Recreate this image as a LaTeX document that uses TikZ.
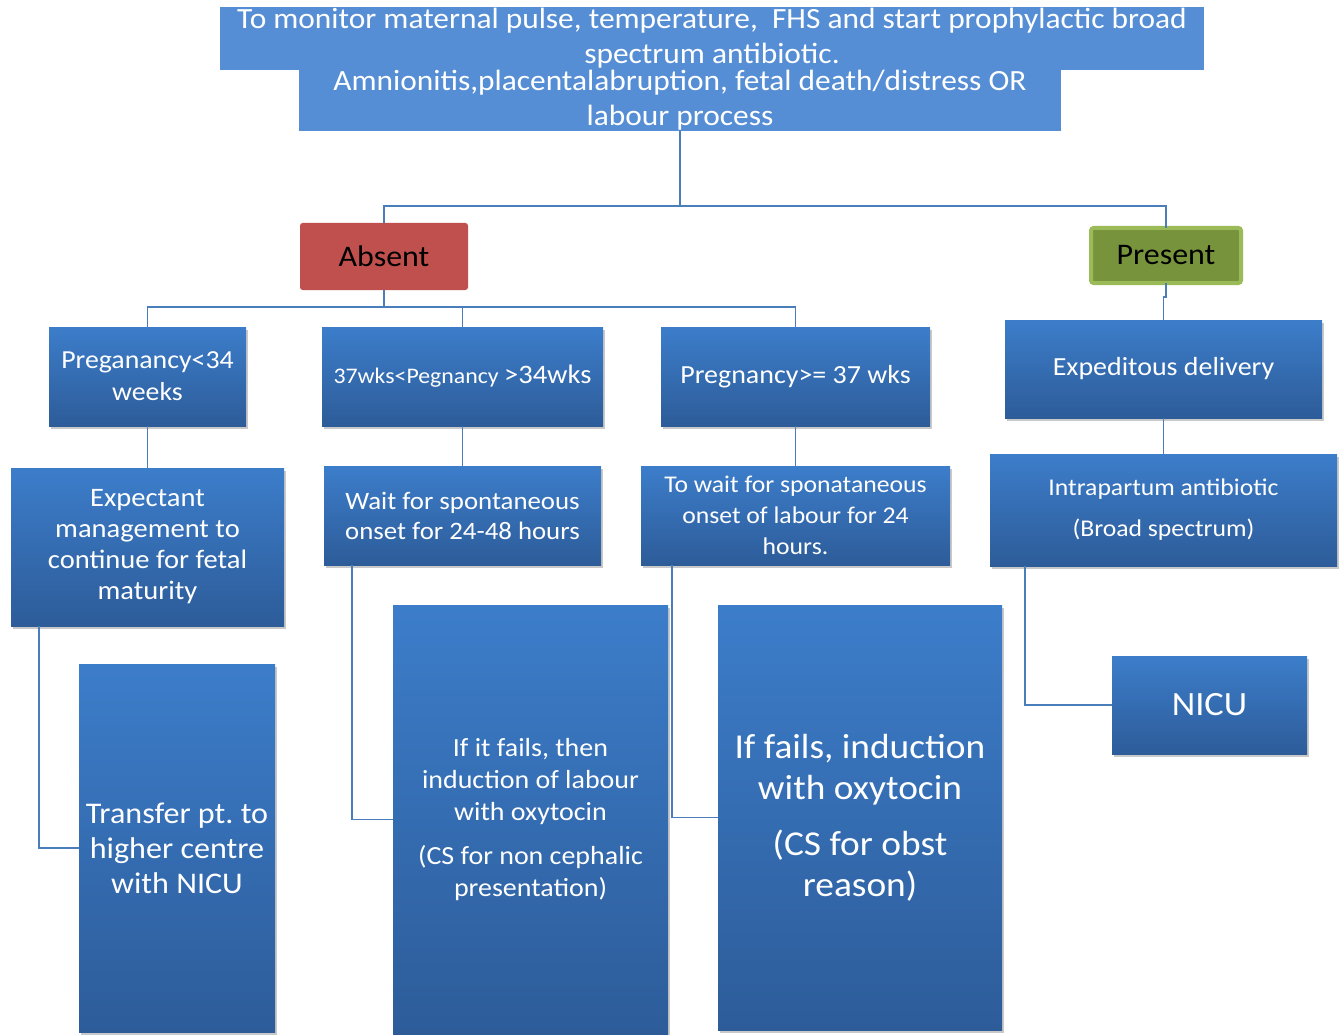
\documentclass[tikz,border=0pt]{standalone}
\usepackage{fontspec}
\setmainfont{Carlito}[FakeStretch=1.07]
\usetikzlibrary{shadows,calc}
\definecolor{flatblue}{HTML}{558ED5}
\definecolor{gtop}{HTML}{3C7DCA}
\definecolor{gbot}{HTML}{2D5C99}
\definecolor{linec}{HTML}{4A7EBB}
\definecolor{absentc}{HTML}{C0504D}
\definecolor{presentc}{HTML}{77933C}
\definecolor{presentb}{HTML}{9BBB59}
\newcommand\fsz[2]{\fontsize{#1}{#2}\selectfont}
\newcommand\pbox[7]{\node[#6, minimum width={(#4-#2)*0.75pt}, minimum height={(#5-#3)*0.75pt}] (#1) at ({(#2+#4)/2},{(#3+#5)/2}) {#7};}
\tikzset{
  base/.style={inner sep=0pt, outer sep=0pt, align=center},
  flatbox/.style={base, fill=flatblue, text=white},
  gradbox/.style={base, top color=gtop, bottom color=gbot, text=white,
    drop shadow={shadow xshift=1.5pt, shadow yshift=-2.5pt, opacity=0.3, fill=black!70}},
  absentbox/.style={base, fill=absentc, rounded corners=2pt, text=black},
  presentbox/.style={base, fill=presentc, draw=presentb, line width=3pt, rounded corners=2pt, text=black},
  conn/.style={draw=linec, line width=1.4pt}
}
\begin{document}
\frenchspacing
\begin{tikzpicture}[x=0.75pt, y=-0.75pt]
\useasboundingbox (0,0) rectangle (1344,1034);

\pbox{top1}{220}{7}{1204}{70}{flatbox, font=\fsz{22}{26.5}}{To monitor maternal pulse, temperature,\ \ FHS and start prophylactic broad\\spectrum antibiotic.}
\pbox{top2}{299}{70}{1061}{131}{flatbox, font=\fsz{22}{26.5}}{Amnionitis,placentalabruption, fetal death/distress OR\\labour process}

\pbox{absent}{300}{223}{468}{290}{absentbox, font=\fsz{22.4}{25}}{Absent}
\pbox{present}{1091}{228}{1241}{283}{presentbox, font=\fsz{22.4}{25}}{Present}

\pbox{b1}{49}{327}{246}{426}{gradbox, font=\fsz{19.5}{24}}{Preganancy<34\\weeks}
\pbox{b2}{322}{327}{603}{426}{gradbox, font=\fsz{20}{22}}{{\fsz{16.7}{20}37wks<Pegnancy }>34wks}
\pbox{b3}{661}{327}{930}{426}{gradbox, font=\fsz{19.6}{22}}{Pregnancy>= 37 wks}
\pbox{b4}{1005}{320}{1322}{418}{gradbox, font=\fsz{19.6}{22}}{Expeditous delivery}

\pbox{c1}{11}{468}{284}{626}{gradbox, font=\fsz{20}{23.25}}{Expectant\\management to\\continue for fetal\\maturity}
\pbox{c2}{324}{466}{601}{565}{gradbox, font=\fsz{18.8}{22.5}}{Wait for spontaneous\\onset for 24-48 hours}
\pbox{c3}{641}{466}{950}{565}{gradbox, font=\fsz{18}{23.25}}{To wait for sponataneous\\onset of labour for 24\\hours.}
\pbox{c4}{990}{454}{1337}{566}{gradbox, font=\fsz{18}{30.75}}{Intrapartum antibiotic\\(Broad spectrum)}

\pbox{d1}{79}{664}{275}{1032}{gradbox, font=\fsz{22.5}{26.25}}{Transfer pt. to\\higher centre\\with NICU}
\pbox{d2}{393}{605}{668}{1034}{gradbox, font=\fsz{19.6}{24}}{If it fails, then\\induction of labour\\with oxytocin\\[9pt](CS for non cephalic\\presentation)}
\pbox{d3}{718}{605}{1002}{1030}{gradbox, font=\fsz{26.2}{30.75}}{If fails, induction\\with oxytocin\\[11pt](CS for obst\\reason)}
\pbox{d4}{1112}{656}{1307}{754}{gradbox, font=\fsz{25.5}{28}}{NICU}

\draw[conn] (top2.south) -- ++(0,75) -| (absent.north);
\draw[conn] (top2.south) -- ++(0,75) -| (present.north);
\draw[conn] (absent.south) -- ++(0,17) -| (b1.north);
\draw[conn] (absent.south) -- ++(0,17) -| (b2.north);
\draw[conn] (absent.south) -- ++(0,17) -| (b3.north);
\draw[conn] (present.south) -- ++(0,14) -| (b4.north);
\draw[conn] (b1.south) -- (c1.north);
\draw[conn] (b2.south) -- (c2.north);
\draw[conn] (b3.south) -- (c3.north);
\draw[conn] (b4.south) -- (c4.north);
\draw[conn] ($(c1.south west)+(28,0)$) |- (d1.west);
\draw[conn] ($(c2.south west)+(28,0)$) |- (d2.west);
\draw[conn] ($(c3.south west)+(31,0)$) |- (d3.west);
\draw[conn] ($(c4.south west)+(35,0)$) |- (d4.west);
\end{tikzpicture}
\end{document}
